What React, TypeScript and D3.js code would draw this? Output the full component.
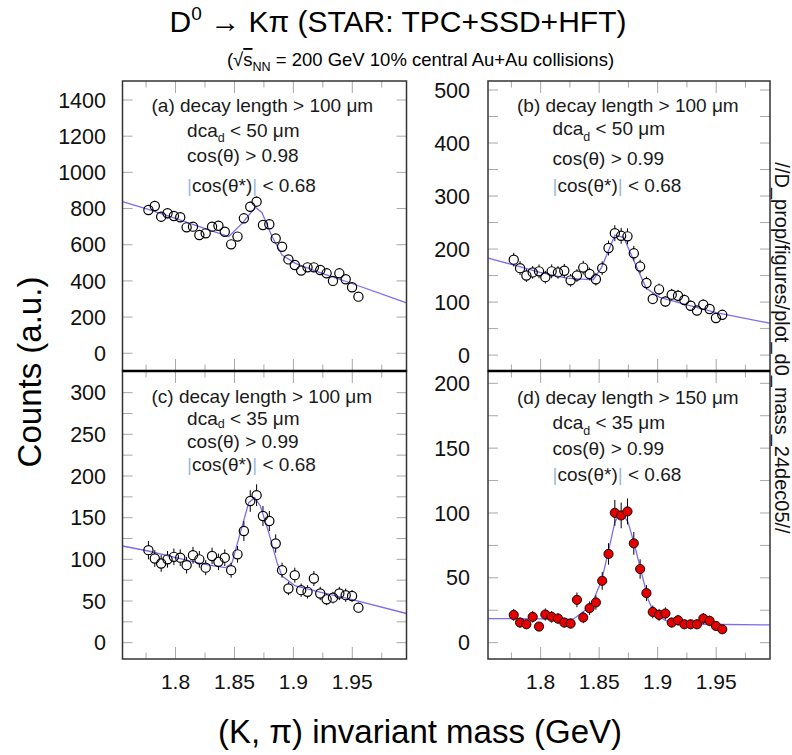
import React from 'react';
import * as d3 from 'd3';

// ---------- data ----------
const MASS_BINS = [
  1.777, 1.7824, 1.7878, 1.7932, 1.7986, 1.804, 1.8094, 1.8148, 1.8202, 1.8256,
  1.831, 1.8364, 1.8418, 1.8472, 1.8526, 1.858, 1.8634, 1.8688, 1.8742, 1.8796,
  1.885, 1.8904, 1.8958, 1.9012, 1.9066, 1.912, 1.9174, 1.9228, 1.9282, 1.9336,
  1.939, 1.9444, 1.9498, 1.9552,
];

const COUNTS_A = [792, 814, 755, 774, 759, 752, 696, 700, 654, 663, 700, 705, 672, 602, 645, 746, 810, 838, 709, 713, 635, 589, 519, 488, 457, 475, 475, 460, 442, 400, 442, 409, 365, 313];
const ERR_A = [28, 29, 27, 28, 28, 27, 26, 26, 26, 26, 26, 27, 26, 25, 25, 27, 28, 29, 27, 27, 25, 24, 23, 22, 21, 22, 22, 21, 21, 20, 21, 20, 19, 18];

const COUNTS_B = [180, 164, 150, 156, 158, 147, 158, 156, 159, 141, 150, 165, 153, 143, 164, 202, 230, 225, 224, 192, 167, 136, 106, 124, 101, 114, 112, 104, 93, 84, 95, 87, 70, 76];
const ERR_B = [13, 13, 12, 12, 13, 12, 13, 12, 13, 12, 12, 13, 12, 12, 13, 14, 15, 15, 15, 14, 13, 12, 10, 11, 10, 11, 11, 10, 10, 9, 10, 9, 8, 9];

const COUNTS_C = [111, 101, 95, 100, 103, 102, 93, 105, 100, 90, 104, 97, 102, 87, 106, 134, 170, 177, 152, 146, 119, 87, 65, 81, 63, 61, 77, 59, 52, 54, 59, 57, 56, 42];
const ERR_C = [11, 10, 10, 10, 10, 10, 10, 10, 10, 9, 10, 10, 10, 9, 10, 12, 13, 13, 12, 12, 11, 9, 8, 9, 8, 8, 9, 8, 7, 7, 8, 8, 7, 6];

const COUNTS_D = [21.4, 15.5, 14.2, 19.9, 12.4, 21.7, 19.9, 18.6, 15.5, 14.7, 33.0, 19.4, 26.6, 31.0, 47.7, 68.4, 100.1, 98.1, 101.2, 76.6, 56.8, 38.2, 23.7, 21.4, 22.5, 15.5, 17.3, 14.2, 14.2, 14.2, 18.6, 16.8, 12.9, 10.3];
const ERR_D = [4.6, 3.9, 3.8, 4.5, 3.5, 4.7, 4.5, 4.3, 3.9, 3.8, 5.7, 4.4, 5.2, 5.6, 6.9, 8.3, 10, 9.9, 10, 8.8, 7.5, 6.2, 4.9, 4.6, 4.7, 3.9, 4.2, 3.8, 3.8, 3.8, 4.3, 4.1, 3.6, 3.2];

// fit curves (knots)
const FIT_A_X = [1.755, 1.7768, 1.8, 1.8282, 1.8452, 1.8565, 1.8678, 1.8734, 1.8819, 1.8904, 1.9017, 1.9243, 1.9492, 1.996];
const FIT_A_Y = [838, 796, 746, 682, 645, 718, 807, 777, 645, 543, 497, 442, 387, 278];
const FIT_B_X = [1.755, 1.7767, 1.7994, 1.8222, 1.8449, 1.852, 1.8634, 1.871, 1.8818, 1.8903, 1.9017, 1.9244, 1.95, 1.996];
const FIT_B_Y = [183, 170, 156, 145, 142, 165, 226, 222, 167, 126, 109, 95, 80, 60];
const FIT_C_X = [1.755, 1.7768, 1.8, 1.8282, 1.8424, 1.848, 1.855, 1.8621, 1.8672, 1.872, 1.8791, 1.8862, 1.8904, 1.9017, 1.9243, 1.9492, 1.996];
const FIT_C_Y = [116, 110, 102, 93, 90, 96, 132, 168, 174, 164, 132, 96, 80, 68, 60, 52, 35];
const FIT_D_X = [1.755, 1.8278, 1.8392, 1.8449, 1.852, 1.8577, 1.8634, 1.8685, 1.8747, 1.8804, 1.8861, 1.8918, 1.8974, 1.9074, 1.9386, 1.996];
const FIT_D_Y = [18.6, 18.1, 25.8, 32.3, 47.7, 69.7, 92.9, 101, 92.9, 74.8, 54.2, 33.5, 21.9, 16.8, 14.2, 13.7];

const X_DOMAIN = [1.755, 1.996];
const X_TICKS_MAJOR = [1.8, 1.85, 1.9, 1.95];
const X_TICKS_MINOR = [1.775, 1.825, 1.875, 1.925, 1.975];
const X_TICK_LABELS = ['1.8', '1.85', '1.9', '1.95'];

const Y_TICKS_A = [0, 200, 400, 600, 800, 1000, 1200, 1400];
const Y_LABELS_A = [0, 200, 400, 600, 800, 1000, 1200, 1400];
const Y_TICKS_B = [0, 50, 100, 150, 200, 250, 300, 350, 400, 450, 500];
const Y_LABELS_B = [0, 100, 200, 300, 400, 500];
const Y_TICKS_C = [0, 25, 50, 75, 100, 125, 150, 175, 200, 225, 250, 275, 300];
const Y_LABELS_C = [0, 50, 100, 150, 200, 250, 300];
const Y_TICKS_D = [0, 25, 50, 75, 100, 125, 150, 175, 200];
const Y_LABELS_D = [0, 50, 100, 150, 200];

const PANEL_TAGS = ['a', 'b', 'c', 'd'];
const DECAY_CUTS = [100, 100, 100, 150];
const DCA_CUTS = [50, 50, 35, 35];
const COS_CUTS = ['0.98', '0.99', '0.99', '0.99'];
const COSSTAR_CUT = '0.68';

// ---------- layout ----------
const FONT = "'Liberation Sans', Arial, Helvetica, sans-serif";
const FIT_COLOR = '#7c6cf2';
const TICK_COLOR = '#a8a8a8';

type PanelDef = {
  idx: number;
  left: number; right: number; top: number; bottom: number;
  yDomain: [number, number];
  yTicks: number[]; yLabels: number[]; labelRight: number;
  counts: number[]; errs: number[];
  fitX: number[]; fitY: number[];
  filled: boolean; xLabels: boolean;
  ann: number[]; subDy: number;
};

const PANELS: PanelDef[] = [
  { idx: 0, left: 122.5, right: 406.5, top: 81, bottom: 371, yDomain: [-98, 1505], yTicks: Y_TICKS_A, yLabels: Y_LABELS_A, labelRight: 106,
    counts: COUNTS_A, errs: ERR_A, fitX: FIT_A_X, fitY: FIT_A_Y, filled: false, xLabels: false, ann: [30.7, 55.7, 80.7, 110.7], subDy: 5.5 },
  { idx: 1, left: 488, right: 770, top: 81, bottom: 371, yDomain: [-30, 517], yTicks: Y_TICKS_B, yLabels: Y_LABELS_B, labelRight: 470,
    counts: COUNTS_B, errs: ERR_B, fitX: FIT_B_X, fitY: FIT_B_Y, filled: false, xLabels: false, ann: [30.7, 54, 84, 110.7], subDy: 5.5 },
  { idx: 2, left: 122.5, right: 406.5, top: 371, bottom: 659, yDomain: [-19.6, 326], yTicks: Y_TICKS_C, yLabels: Y_LABELS_C, labelRight: 106,
    counts: COUNTS_C, errs: ERR_C, fitX: FIT_C_X, fitY: FIT_C_Y, filled: false, xLabels: true, ann: [31.5, 54, 77, 100], subDy: 3 },
  { idx: 3, left: 488, right: 770, top: 371, bottom: 659, yDomain: [-12.6, 209.5], yTicks: Y_TICKS_D, yLabels: Y_LABELS_D, labelRight: 470,
    counts: COUNTS_D, errs: ERR_D, fitX: FIT_D_X, fitY: FIT_D_Y, filled: true, xLabels: true, ann: [33, 58, 84, 110], subDy: 5.5 },
];

const R = 4.6;

function Panel({ p }: { p: PanelDef }) {
  const x = d3.scaleLinear().domain(X_DOMAIN).range([p.left, p.right]);
  const y = d3.scaleLinear().domain(p.yDomain).range([p.bottom, p.top]);
  const line = d3.line<number>().x((_, i) => x(p.fitX[i])).y((d) => y(d));
  const clipId = `clip-${p.idx}`;
  const tx1 = p.left + 29;
  const tx2 = p.left + 64.6;
  const barColor = '#9fbad8';
  return (
    <g>
      <defs>
        <clipPath id={clipId}>
          <rect x={p.left} y={p.top} width={p.right - p.left} height={p.bottom - p.top} />
        </clipPath>
      </defs>
      {X_TICKS_MAJOR.map((t) => (
        <g key={'xm' + t}>
          <line x1={x(t)} x2={x(t)} y1={p.bottom} y2={p.bottom - 12} stroke={TICK_COLOR} strokeWidth={1} />
          <line x1={x(t)} x2={x(t)} y1={p.top} y2={p.top + 12} stroke={TICK_COLOR} strokeWidth={1} />
        </g>
      ))}
      {X_TICKS_MINOR.map((t) => (
        <g key={'xn' + t}>
          <line x1={x(t)} x2={x(t)} y1={p.bottom} y2={p.bottom - 6.5} stroke={TICK_COLOR} strokeWidth={1} />
          <line x1={x(t)} x2={x(t)} y1={p.top} y2={p.top + 6.5} stroke={TICK_COLOR} strokeWidth={1} />
        </g>
      ))}
      {p.yTicks.map((t) => (
        <g key={'y' + t}>
          <line x1={p.left} x2={p.left + 10} y1={y(t)} y2={y(t)} stroke={TICK_COLOR} strokeWidth={1} />
          <line x1={p.right} x2={p.right - 10} y1={y(t)} y2={y(t)} stroke={TICK_COLOR} strokeWidth={1} />
        </g>
      ))}
      {p.yLabels.map((t) => (
        <text key={'yl' + t} x={p.labelRight} y={y(t) + 7.6} textAnchor="end" fontSize={21.5} fontFamily={FONT} fill="#111">
          {String(t)}
        </text>
      ))}
      {p.xLabels &&
        X_TICKS_MAJOR.map((t, i) => (
          <text key={'xl' + t} x={x(t)} y={689} textAnchor="middle" fontSize={21} fontFamily={FONT} fill="#111">
            {X_TICK_LABELS[i]}
          </text>
        ))}
      <path d={line(p.fitY) || ''} fill="none" stroke={FIT_COLOR} strokeWidth={1.3} clipPath={`url(#${clipId})`} />
      {p.counts.map((c, i) => {
        const cx = x(MASS_BINS[i]);
        const cy = y(c);
        const yHi = y(c + p.errs[i]);
        const yLo = y(c - p.errs[i]);
        return (
          <g key={'e' + i}>
            {cy - yHi > R && <line x1={cx} x2={cx} y1={yHi} y2={cy - R} stroke="#000" strokeWidth={1} />}
            {yLo - cy > R && <line x1={cx} x2={cx} y1={cy + R} y2={yLo} stroke="#000" strokeWidth={1} />}
          </g>
        );
      })}
      {p.counts.map((c, i) => (
        <circle key={'m' + i} cx={x(MASS_BINS[i])} cy={y(c)} r={R}
          fill={p.filled ? '#e50000' : 'none'} stroke="#000" strokeWidth={p.filled ? 0.9 : 1.2} />
      ))}
      <rect x={p.left} y={p.top} width={p.right - p.left} height={p.bottom - p.top} fill="none" stroke="#333" strokeWidth={1.5} />
      <g fontFamily={FONT} fontSize={19} fill="#1a1a1a">
        <text x={tx1} y={p.top + p.ann[0]}>{`(${PANEL_TAGS[p.idx]}) decay length > ${DECAY_CUTS[p.idx]} μm`}</text>
        <text x={tx2} y={p.top + p.ann[1]}>
          dca<tspan dy={p.subDy} fontSize={12.5}>d</tspan>
          <tspan dy={-p.subDy}>{` < ${DCA_CUTS[p.idx]} μm`}</tspan>
        </text>
        <text x={tx2} y={p.top + p.ann[2]}>{`cos(θ) > ${COS_CUTS[p.idx]}`}</text>
        <text x={tx2} y={p.top + p.ann[3]}>
          <tspan fill={barColor}>|</tspan>
          <tspan>cos(θ*)</tspan>
          <tspan fill={barColor}>|</tspan>
          <tspan>{` < ${COSSTAR_CUT}`}</tspan>
        </text>
      </g>
    </g>
  );
}

export default function App() {
  return (
    <svg width={792} height={755} style={{ position: 'absolute', left: 0, top: 0, background: '#fff' }} xmlns="http://www.w3.org/2000/svg">
      <rect x={0} y={0} width={792} height={755} fill="#fff" />
      {PANELS.map((p) => (
        <Panel key={p.idx} p={p} />
      ))}
      <line x1={122.5} x2={406.5} y1={371} y2={371} stroke="#000" strokeWidth={2.5} />
      <line x1={488} x2={770} y1={371} y2={371} stroke="#000" strokeWidth={2.5} />
      <text x={398} y={32} textAnchor="middle" fontFamily={FONT} fontSize={30} fill="#000">
        D<tspan dy={-12} fontSize={19}>0</tspan>
        <tspan dy={12}>{' → Kπ (STAR: TPC+SSD+HFT)'}</tspan>
      </text>
      <text x={420.5} y={66} textAnchor="middle" fontFamily={FONT} fontSize={18.5} fill="#000">
        (√<tspan style={{ textDecoration: 'overline' }}>s</tspan>
        <tspan dy={4.5} fontSize={12.5}>NN</tspan>
        <tspan dy={-4.5}>{' = 200 GeV 10% central Au+Au collisions)'}</tspan>
      </text>
      <text transform="translate(41,372) rotate(-90)" textAnchor="middle" fontFamily={FONT} fontSize={33} fill="#000">
        Counts (a.u.)
      </text>
      <text x={420} y={743} textAnchor="middle" fontFamily={FONT} fontSize={33} fill="#000">
        (K, π) invariant mass (GeV)
      </text>
      <text transform="translate(775,348) rotate(90)" textAnchor="middle" fontFamily={FONT} fontSize={20} fill="#111">
        //D_prop/figures/plot_d0_mass_24dec05//
      </text>
    </svg>
  );
}
